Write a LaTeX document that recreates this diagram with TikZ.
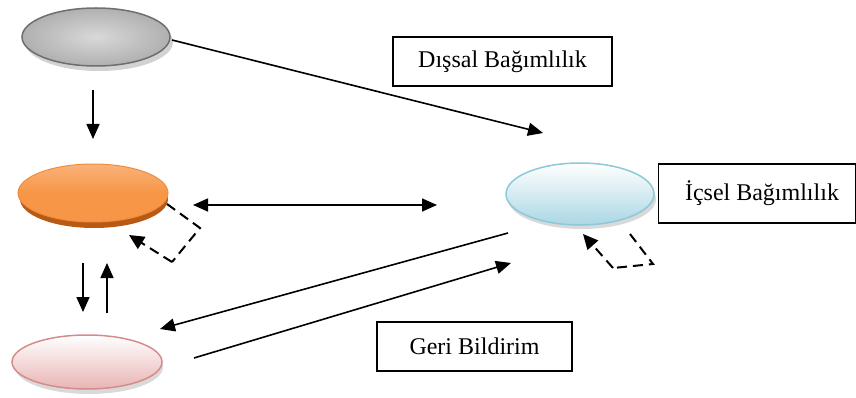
\documentclass[tikz,border=0pt]{standalone}
\usepackage{fontspec}
\setmainfont{Liberation Serif}
\usetikzlibrary{shapes.geometric,arrows.meta}
\definecolor{grayborder}{HTML}{6E6E6E}
\definecolor{orangefill}{HTML}{F79646}
\definecolor{orangelight}{HTML}{FAB27A}
\definecolor{orangedark}{HTML}{B85A14}
\definecolor{pinkfill}{HTML}{E8B4B3}
\definecolor{pinkborder}{HTML}{D48C8B}
\definecolor{bluefill}{HTML}{ABD7E4}
\definecolor{blueborder}{HTML}{8CC9D9}
\begin{document}
\begin{tikzpicture}[x=1pt,y=-1pt,
  ell/.style={ellipse, inner sep=0pt, minimum width=150pt, minimum height=58pt},
  lbl/.style={draw=black, line width=1.3pt, inner sep=0pt, font=\fontsize{24}{28}\selectfont},
  arr/.style={line width=1.6pt, -{Triangle[length=15pt,width=13pt]}},
  darr/.style={line width=1.6pt, {Triangle[length=15pt,width=13pt]}-{Triangle[length=15pt,width=13pt]}},
  dsh/.style={line width=2pt, dash pattern=on 10pt off 6pt},
  dsharr/.style={dsh, -{Triangle[length=15pt,width=14pt]}}]
\useasboundingbox (0,0) rectangle (856,398);
% shadows
\fill[gray!35] (99,42) ellipse [x radius=74, y radius=29];
\fill[orangedark] (94,199) ellipse [x radius=74, y radius=29];
\fill[gray!30] (89,367) ellipse [x radius=74, y radius=27];
\fill[gray!30] (582,199) ellipse [x radius=74, y radius=30];
% ellipses
\node[ell, draw=grayborder, line width=1.5pt, inner color=gray!30, outer color=gray!62, minimum width=148pt, minimum height=58pt] (g) at (96,37) {};
\node[ell, draw=orangefill!85!orangedark, line width=1pt, top color=orangelight, bottom color=orangefill, middle color=orangefill, minimum height=58pt] (o) at (93,193) {};
\node[ell, draw=pinkborder, line width=1.5pt, top color=white, bottom color=pinkfill, minimum height=54pt] (p) at (87,362) {};
\node[ell, draw=blueborder, line width=1.5pt, top color=white, bottom color=bluefill, minimum width=148pt, minimum height=62pt] (b) at (580,194) {};
% label boxes
\node[lbl, minimum width=219pt, minimum height=49pt] (dis) at (502.5,61.5) {Dışsal Bağımlılık};
\node[lbl, minimum width=197pt, minimum height=59pt] (ic) at (757,193.5) {\hspace*{10pt}İçsel Bağımlılık};
\node[lbl, minimum width=195pt, minimum height=49pt] (geri) at (474.5,346.5) {Geri Bildirim};
% coordinates
\coordinate (gs) at (172,40);
\coordinate (ge) at (543,133);
\coordinate (d1s) at (93,90);
\coordinate (d1e) at (93,139);
\coordinate (hl) at (193,205);
\coordinate (hr) at (437,205);
\coordinate (ol1) at (167,204);
\coordinate (ol2) at (200,228);
\coordinate (ol3) at (172,262);
\coordinate (ol4) at (129,235);
\coordinate (dns) at (83,263);
\coordinate (dne) at (83,312);
\coordinate (ups) at (107,313);
\coordinate (upe) at (107,263);
\coordinate (bps) at (508,233);
\coordinate (bpe) at (160,329);
\coordinate (pbs) at (194,358);
\coordinate (pbe) at (511,263);
\coordinate (bl1) at (630,234);
\coordinate (bl2) at (653,264);
\coordinate (bl3) at (613,268);
\coordinate (bl4) at (583,234);
% connectors
\draw[arr] (gs) -- (ge);
\draw[arr] (d1s) -- (d1e);
\draw[darr] (hl) -- (hr);
\draw[dsh] (ol1) -- (ol2) -- (ol3);
\draw[dsharr] (ol3) -- (ol4);
\draw[arr] (dns) -- (dne);
\draw[arr] (ups) -- (upe);
\draw[arr] (bps) -- (bpe);
\draw[arr] (pbs) -- (pbe);
\draw[dsh] (bl1) -- (bl2) -- (bl3);
\draw[dsharr] (bl3) -- (bl4);
\end{tikzpicture}
\end{document}
